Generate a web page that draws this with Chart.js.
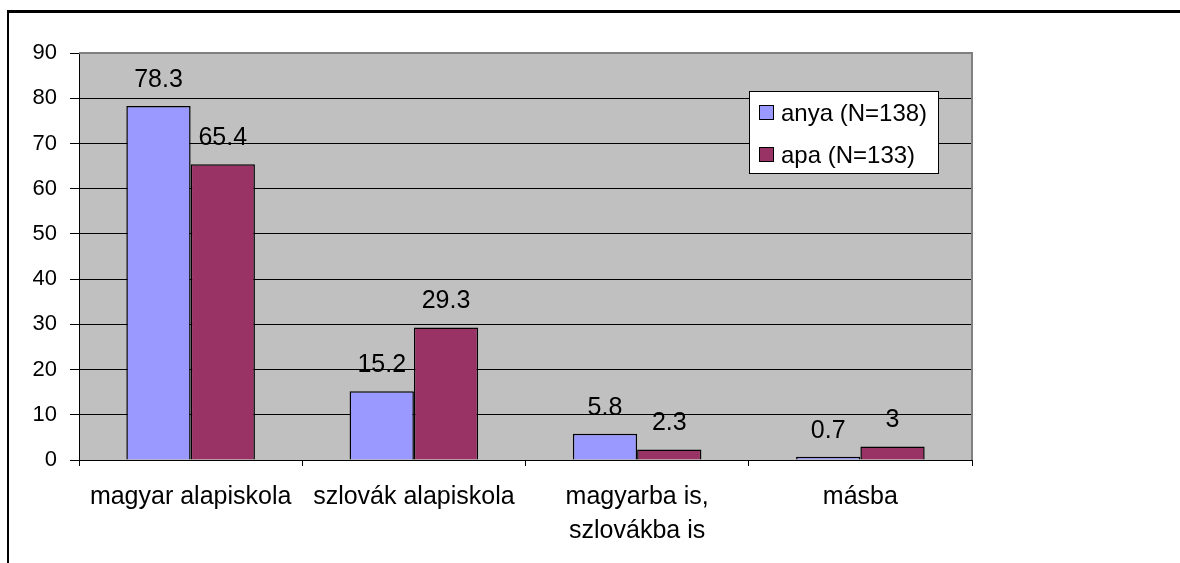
<!DOCTYPE html>
<html>
<head>
<meta charset="utf-8">
<script src="https://cdn.jsdelivr.net/npm/chart.js@4/dist/chart.umd.min.js"></script>
<style>
  html, body { margin: 0; padding: 0; background: #fff; overflow: hidden; }
  #wrap { position: relative; width: 1180px; height: 563px; }
  #frame { position: absolute; left: 7px; top: 10px; width: 1300px; height: 700px;
           border-top: 3px solid #000; border-left: 2px solid #000; box-sizing: border-box; }
  canvas { position: absolute; left: 0; top: 0; }
</style>
</head>
<body>
<div id="wrap">
  <div id="frame"></div>
  <canvas id="c" width="1180" height="563"></canvas>
</div>
<script>
const categories = ['magyar alapiskola', 'szlovák alapiskola', ['magyarba is,', 'szlovákba is'], 'másba'];
const seriesNames = ['anya (N=138)', 'apa (N=133)'];
const anya = [78.3, 15.2, 5.8, 0.7];
const apa = [65.4, 29.3, 2.3, 3];
const yMin = 0, yMax = 90, yStep = 10;

const FONT = "'Liberation Sans', Arial, sans-serif";

const cv = document.getElementById('c');

const bgPlugin = {
  id: 'bg',
  beforeDraw(chart) {
    const a = chart.chartArea, ctx = chart.ctx;
    ctx.save();
    ctx.fillStyle = '#C0C0C0';
    ctx.fillRect(a.left, a.top, a.right - a.left, a.bottom - a.top);
    ctx.restore();
  },
  afterDatasetsDraw(chart) {
    const a = chart.chartArea, ctx = chart.ctx;
    ctx.save();
    ctx.strokeStyle = '#808080';
    ctx.lineWidth = 2;
    ctx.beginPath();
    ctx.moveTo(a.left, a.top);
    ctx.lineTo(a.right, a.top);
    ctx.lineTo(a.right, a.bottom);
    ctx.stroke();
    // data labels
    ctx.fillStyle = '#000';
    ctx.font = '25px ' + FONT;
    ctx.textAlign = 'center';
    ctx.textBaseline = 'middle';
    chart.data.datasets.forEach((ds, di) => {
      const meta = chart.getDatasetMeta(di);
      meta.data.forEach((el, i) => {
        ctx.fillText(String(ds.data[i]), el.x, el.y - 26);
      });
    });
    // legend
    const lx = a.right - 223, ly = a.top + 38, lw = 189, lh = 82;
    ctx.fillStyle = '#fff';
    ctx.fillRect(lx, ly, lw, lh);
    ctx.strokeStyle = '#000';
    ctx.lineWidth = 1;
    ctx.strokeRect(lx + 0.5, ly + 0.5, lw, lh);
    ctx.font = '24px ' + FONT;
    chart.data.datasets.forEach((ds, di) => {
      const cy = ly + 22 + di * 42;
      ctx.fillStyle = ds.backgroundColor;
      ctx.fillRect(lx + 10.5, cy - 7.5, 14, 14);
      ctx.strokeStyle = '#000';
      ctx.strokeRect(lx + 10.5, cy - 7.5, 14, 14);
      ctx.fillStyle = '#000';
      ctx.textAlign = 'left';
      ctx.fillText(ds.label, lx + 32, cy + 1);
    });
    ctx.restore();
  }
};

new Chart(cv, {
  type: 'bar',
  data: {
    labels: categories,
    datasets: [
      { label: seriesNames[0], data: anya, backgroundColor: '#9999FF', borderColor: '#000', borderWidth: 1.5,
        categoryPercentage: 0.576, barPercentage: 1 },
      { label: seriesNames[1], data: apa, backgroundColor: '#993366', borderColor: '#000', borderWidth: 1.5,
        categoryPercentage: 0.576, barPercentage: 1 }
    ]
  },
  options: {
    responsive: false,
    animation: false,
    devicePixelRatio: 1,
    layout: { padding: { left: 0, right: 208, top: 53, bottom: 0 } },
    plugins: { legend: { display: false }, tooltip: { enabled: false }, title: { display: false } },
    scales: {
      x: {
        afterFit(s) { s.height = 103; },
        grid: { drawOnChartArea: false, tickLength: 6, color: '#000', offset: true },
        border: { color: '#000', width: 1 },
        ticks: { color: '#000', font: { family: FONT, size: 25, lineHeight: 1.36 }, padding: 14, maxRotation: 0, autoSkip: false }
      },
      y: {
        min: yMin, max: yMax,
        afterFit(s) { s.width = 79; },
        grid: { color: '#000', tickColor: '#000', tickLength: 9, lineWidth: 1 },
        border: { color: '#000', width: 1 },
        ticks: { stepSize: yStep, color: '#000', font: { family: FONT, size: 22 }, padding: 13 }
      }
    }
  },
  plugins: [bgPlugin]
});
</script>
</body>
</html>
